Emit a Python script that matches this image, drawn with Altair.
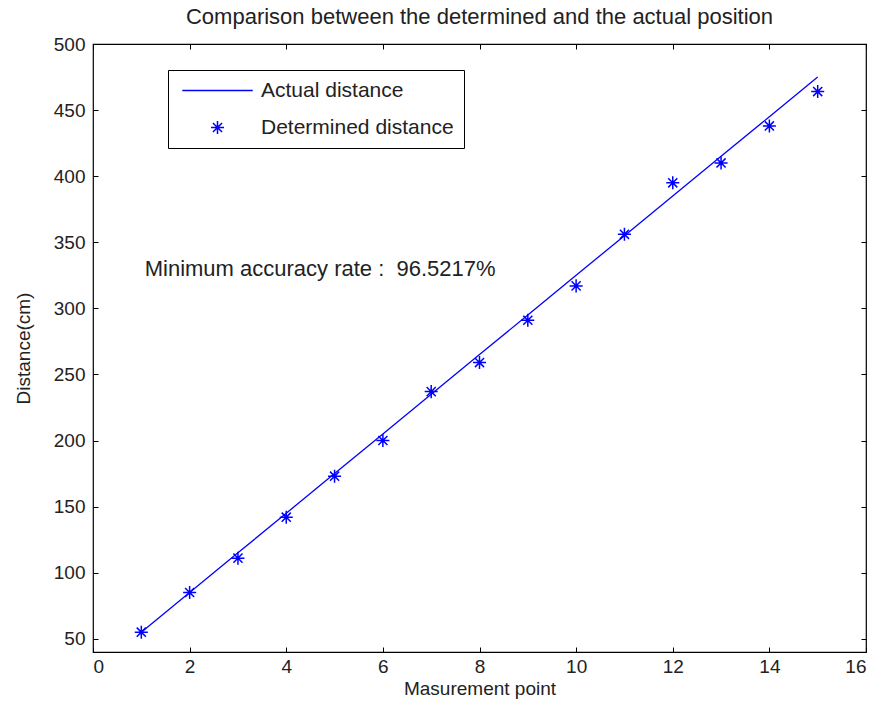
import altair as alt
import pandas as pd

# ---- data ----
points = list(range(1, 16))
actual_distance = [55, 85, 115, 145, 175, 205, 235, 265, 295, 325, 355, 385, 415, 445, 475]
determined_distance = [55, 85, 111, 142, 173, 200, 237, 259, 291, 317, 356, 395, 410, 438, 464]
series_names = ["Actual distance", "Determined distance"]
x_ticks = [0, 2, 4, 6, 8, 10, 12, 14, 16]
y_ticks = [50, 100, 150, 200, 250, 300, 350, 400, 450, 500]
note_text = ["Minimum accuracy rate : \u00a096.5217%"]
note_x = [1.07]
note_y = [330]

FONT = "Liberation Sans"
BLUE = "#0000ff"
STAR = "M-1,0L1,0M0,-1L0,1M-0.7,-0.7L0.7,0.7M-0.7,0.7L0.7,-0.7"
DASH = "M-5.4,0L5.4,0"

df_actual = pd.DataFrame({"point": points, "distance": actual_distance,
                          "series": series_names[0]})
df_det = pd.DataFrame({"point": points, "distance": determined_distance,
                       "series": series_names[1]})
df_note = pd.DataFrame({"x": note_x, "y": note_y, "t": note_text})

x_scale = alt.Scale(domain=[0, 16], nice=False, zero=False)
y_scale = alt.Scale(domain=[40, 500], nice=False, zero=False)

common_axis = dict(domain=False, grid=False, tickSize=5, offset=-5, tickColor="black",
                   tickWidth=1, labelFont=FONT, titleFont=FONT, labelFontSize=19,
                   titleFontSize=19, titleFontWeight="normal", labelColor="#222",
                   titleColor="#222")

x_bottom = alt.Axis(orient="bottom", values=x_ticks, title="Masurement point",
                    labelPadding=5, titlePadding=3, format="d", **common_axis)
y_left = alt.Axis(orient="left", values=y_ticks, title="Distance(cm)",
                  labelPadding=8, titlePadding=20, format="d", **common_axis)
x_top = alt.Axis(orient="top", values=x_ticks, title=None, labels=False, **common_axis)
y_right = alt.Axis(orient="right", values=y_ticks, title=None, labels=False, **common_axis)

line = alt.Chart(df_actual).mark_line(color=BLUE, strokeWidth=1.3).encode(
    x=alt.X("point:Q", scale=x_scale, axis=x_bottom),
    y=alt.Y("distance:Q", scale=y_scale, axis=y_left),
)

stars = alt.Chart(df_det).mark_point(filled=False, color=BLUE, strokeWidth=1.5,
                                     opacity=1, size=170).encode(
    x=alt.X("point:Q", scale=x_scale, axis=x_top),
    y=alt.Y("distance:Q", scale=y_scale, axis=y_right),
    shape=alt.Shape("series:N",
                    scale=alt.Scale(domain=series_names, range=[DASH, STAR]),
                    legend=alt.Legend(orient="none", legendX=75, legendY=26, title=None,
                                      strokeColor="black", fillColor="white", padding=10,
                                      labelFont=FONT, labelFontSize=21, labelColor="#222",
                                      labelOffset=33, rowPadding=15, symbolSize=170,
                                      symbolOffset=29,
                                      symbolStrokeWidth=1.5, symbolStrokeColor=BLUE,
                                      labelLimit=0)),
)

note = alt.Chart(df_note).mark_text(align="left", baseline="middle", font=FONT,
                                     fontSize=22, color="#222").encode(
    x=alt.X("x:Q", scale=x_scale, axis=None),
    y=alt.Y("y:Q", scale=y_scale, axis=None),
    text="t:N",
)

chart = alt.layer(line, stars, note).resolve_axis(
    x="independent", y="independent"
).properties(
    width=773, height=608,
    padding={"left": 93, "top": 44, "right": 14, "bottom": 65},
    autosize=alt.AutoSizeParams(type="none"),
    background="white",
    title=alt.TitleParams("Comparison between the determined and the actual position",
                          font=FONT, fontSize=22, fontWeight="normal", color="#222",
                          anchor="middle", offset=6),
).configure_view(stroke="black", strokeWidth=1.2)

chart.save("out.html", embed_options={"renderer": "svg", "actions": False})
